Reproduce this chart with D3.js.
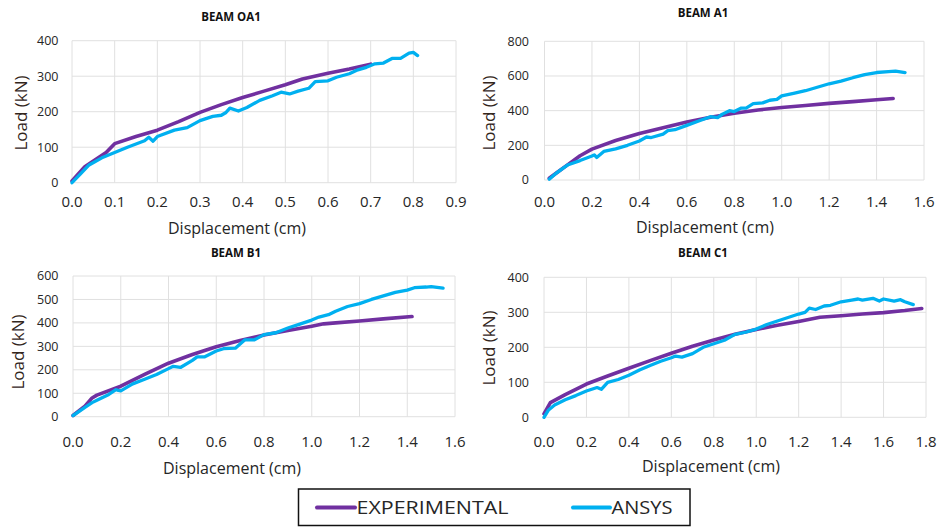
<!DOCTYPE html>
<html>
<head>
    <meta charset="utf-8">
    <title>Beam load-displacement</title>
    <script src="https://d3js.org/d3.v7.min.js"></script>
    <style>
        body {
            margin: 0;
            background: white;
        }

        svg text {
            font-family: "Open Sans", "DejaVu Sans", sans-serif;
            fill: #262626;
        }
    </style>
</head>
<body>
    <svg id="chart" width="943" height="527"></svg>
    <script>

        // ---- data: [displacement (cm), load (kN)] ----
        const oa1Exp = [[0, 5], [0.03, 45], [0.08, 85], [0.1, 110], [0.15, 130], [0.2, 148], [0.25, 172], [0.3, 198],
            [0.35, 220], [0.4, 240], [0.45, 258], [0.5, 276], [0.54, 292], [0.6, 308], [0.65, 320], [0.7, 334]];
        const oa1Ansys = [[0, 0], [0.02, 25], [0.04, 50], [0.07, 70], [0.1, 85], [0.13, 100], [0.17, 118], [0.18, 128],
            [0.19, 117], [0.2, 130], [0.24, 148], [0.27, 155], [0.3, 175], [0.33, 187], [0.35, 190], [0.36, 197],
            [0.37, 210], [0.39, 202], [0.41, 212], [0.44, 232], [0.47, 245], [0.49, 255], [0.51, 250], [0.53, 258],
            [0.555, 266], [0.57, 285], [0.6, 287], [0.62, 297], [0.65, 307], [0.67, 318], [0.69, 325], [0.71, 335],
            [0.73, 337], [0.75, 350], [0.77, 350], [0.79, 365], [0.8, 367], [0.81, 358]];

        const a1Exp = [[0.02, 10], [0.05, 40], [0.1, 90], [0.15, 140], [0.2, 178], [0.3, 228], [0.4, 268], [0.5, 302],
            [0.6, 335], [0.7, 362], [0.8, 385], [0.9, 404], [1.0, 418], [1.1, 430], [1.2, 442], [1.3, 452],
            [1.4, 463], [1.47, 470]];
        const a1Ansys = [[0.02, 5], [0.05, 40], [0.08, 70], [0.1, 88], [0.15, 112], [0.2, 138], [0.21, 145],
            [0.22, 130], [0.25, 165], [0.3, 180], [0.35, 200], [0.4, 225], [0.43, 248], [0.45, 245], [0.5, 265],
            [0.52, 285], [0.55, 290], [0.6, 315], [0.65, 340], [0.7, 365], [0.73, 360], [0.75, 380], [0.78, 400],
            [0.8, 395], [0.83, 415], [0.85, 415], [0.88, 440], [0.92, 445], [0.95, 460], [0.98, 465], [1.0, 485],
            [1.05, 500], [1.1, 515], [1.15, 535], [1.2, 555], [1.25, 570], [1.3, 590], [1.35, 608], [1.4, 620],
            [1.45, 625], [1.48, 628], [1.52, 620]];

        const b1Exp = [[0, 5], [0.05, 45], [0.08, 80], [0.1, 92], [0.2, 130], [0.3, 180], [0.4, 228], [0.5, 265],
            [0.6, 298], [0.7, 325], [0.8, 348], [0.9, 368], [1.0, 386], [1.05, 396], [1.1, 400], [1.2, 408],
            [1.3, 417], [1.42, 427]];
        const b1Ansys = [[0, 5], [0.05, 40], [0.08, 60], [0.1, 70], [0.15, 95], [0.18, 115], [0.19, 112], [0.2, 110],
            [0.25, 140], [0.3, 160], [0.35, 180], [0.4, 205], [0.42, 215], [0.45, 210], [0.5, 240], [0.52, 255],
            [0.55, 255], [0.6, 280], [0.63, 290], [0.68, 292], [0.7, 310], [0.72, 328], [0.76, 328], [0.8, 350],
            [0.85, 358], [0.9, 378], [0.95, 395], [1.0, 412], [1.03, 425], [1.07, 435], [1.1, 450], [1.15, 470],
            [1.2, 482], [1.25, 500], [1.3, 515], [1.35, 530], [1.4, 540], [1.43, 550], [1.48, 553], [1.5, 555],
            [1.55, 548]];

        const c1Exp = [[0, 10], [0.03, 42], [0.1, 65], [0.2, 95], [0.3, 118], [0.4, 140], [0.5, 162], [0.6, 183],
            [0.7, 203], [0.8, 221], [0.9, 237], [1.0, 251], [1.1, 263], [1.2, 274], [1.3, 286], [1.4, 290],
            [1.5, 295], [1.6, 299], [1.7, 305], [1.78, 311]];
        const c1Ansys = [[0, 0], [0.02, 20], [0.05, 35], [0.1, 50], [0.15, 62], [0.2, 75], [0.25, 85], [0.27, 80],
            [0.3, 100], [0.35, 108], [0.4, 120], [0.45, 135], [0.5, 148], [0.55, 160], [0.6, 170], [0.62, 175],
            [0.65, 172], [0.7, 182], [0.75, 200], [0.8, 210], [0.85, 220], [0.9, 237], [0.95, 243], [1.0, 252],
            [1.05, 265], [1.1, 275], [1.15, 285], [1.2, 295], [1.23, 300], [1.25, 312], [1.28, 308], [1.32, 318],
            [1.35, 320], [1.4, 330], [1.45, 335], [1.48, 338], [1.5, 335], [1.55, 340], [1.58, 332], [1.6, 338],
            [1.65, 332], [1.68, 336], [1.7, 330], [1.74, 322]];

        const titles = ["BEAM OA1", "BEAM A1", "BEAM B1", "BEAM C1"];
        const xMaxes = [0.9, 1.6, 1.6, 1.8];
        const xSteps = [0.1, 0.2, 0.2, 0.2];
        const yMaxes = [400, 800, 600, 400];
        const ySteps = [100, 200, 100, 100];
        const seriesNames = ["EXPERIMENTAL", "ANSYS"];

        // ---- layout ----
        const colors = { exp: "#7030A0", ansys: "#00B0F0" };
        const panels = [
            { left: 72, right: 456, top: 40.7, bottom: 182.7, titleX: 231, titleY: 21, yLabX: 21, yLabY: 113, xLabX: 237, xLabY: 233.5, tickGap: 13.5, exp: oa1Exp, ansys: oa1Ansys },
            { left: 544.5, right: 924, top: 41.3, bottom: 180, titleX: 703, titleY: 17, yLabX: 489, yLabY: 113, xLabX: 705, xLabY: 232.5, tickGap: 15.5, exp: a1Exp, ansys: a1Ansys },
            { left: 73, right: 455, top: 276, bottom: 416.7, titleX: 236, titleY: 257, yLabX: 18, yLabY: 352, xLabX: 232, xLabY: 473.5, tickGap: 14.5, exp: b1Exp, ansys: b1Ansys },
            { left: 544, right: 926, top: 277.3, bottom: 417.3, titleX: 703, titleY: 257, yLabX: 489, yLabY: 348, xLabX: 711, xLabY: 472, tickGap: 15, exp: c1Exp, ansys: c1Ansys }
        ];
        const xTickBaselines = [207, 207, 447, 447];

        const svg = d3.select("#chart");

        panels.forEach((p, i) => {
            const x = d3.scaleLinear().domain([0, xMaxes[i]]).range([p.left, p.right]);
            const y = d3.scaleLinear().domain([0, yMaxes[i]]).range([p.bottom, p.top]);
            const xTicks = d3.range(0, xMaxes[i] + xSteps[i] / 2, xSteps[i]);
            const yTicks = d3.range(0, yMaxes[i] + ySteps[i] / 2, ySteps[i]);

            const g = svg.append("g");

            // gridlines (Excel style, edges included)
            g.selectAll(".vgrid").data(xTicks).enter().append("line")
                .attr("x1", d => x(d)).attr("x2", d => x(d))
                .attr("y1", p.top).attr("y2", p.bottom)
                .attr("stroke", "#e0e0e0").attr("stroke-width", 1);
            g.selectAll(".hgrid").data(yTicks).enter().append("line")
                .attr("x1", p.left).attr("x2", p.right)
                .attr("y1", d => y(d)).attr("y2", d => y(d))
                .attr("stroke", "#e0e0e0").attr("stroke-width", 1);

            // tick labels
            g.selectAll(".xt").data(xTicks).enter().append("text")
                .attr("x", d => x(d)).attr("y", xTickBaselines[i])
                .attr("text-anchor", "middle")
                .style("font-size", "15px")
                .text(d => d3.format(".1f")(d));
            g.selectAll(".yt").data(yTicks).enter().append("text")
                .attr("x", p.left - p.tickGap).attr("y", d => y(d) + 4.4)
                .attr("text-anchor", "end")
                .style("font-size", "12.5px")
                .text(d => d);

            // titles
            g.append("text").attr("x", p.titleX).attr("y", p.titleY)
                .attr("text-anchor", "middle")
                .style("font-size", "11.5px").style("font-weight", "bold")
                .style("fill", "#111")
                .text(titles[i]);
            g.append("text").attr("x", p.xLabX).attr("y", p.xLabY)
                .attr("text-anchor", "middle")
                .style("font-size", "16px")
                .text("Displacement (cm)");
            g.append("text")
                .attr("transform", `translate(${p.yLabX},${p.yLabY}) rotate(-90)`)
                .attr("text-anchor", "middle").attr("dy", "0.35em")
                .style("font-size", "17px")
                .style("fill", "#33261c")
                .text("Load (kN)");

            const line = d3.line().x(d => x(d[0])).y(d => y(d[1]));

            g.append("path").datum(p.exp)
                .attr("d", line).attr("fill", "none")
                .attr("stroke", colors.exp).attr("stroke-width", 3.6)
                .attr("stroke-linejoin", "round").attr("stroke-linecap", "round");
            g.append("path").datum(p.ansys)
                .attr("d", line).attr("fill", "none")
                .attr("stroke", colors.ansys).attr("stroke-width", 3.3)
                .attr("stroke-linejoin", "round").attr("stroke-linecap", "round");
        });

        // legend
        const legend = svg.append("g");
        legend.append("rect")
            .attr("x", 298.5).attr("y", 489).attr("width", 391.5).attr("height", 36.5)
            .attr("fill", "white").attr("stroke", "#111").attr("stroke-width", 1.5);

        const legendItems = [
            { name: seriesNames[0], color: colors.exp, x1: 317, x2: 355, w: 152 },
            { name: seriesNames[1], color: colors.ansys, x1: 573, x2: 610, w: 61 }
        ];
        legendItems.forEach(it => {
            legend.append("line")
                .attr("x1", it.x1).attr("x2", it.x2).attr("y1", 507.5).attr("y2", 507.5)
                .attr("stroke", it.color).attr("stroke-width", 4).attr("stroke-linecap", "round");
            legend.append("text")
                .attr("x", it.x2 + 1.5).attr("y", 514)
                .attr("textLength", it.w).attr("lengthAdjust", "spacingAndGlyphs")
                .style("font-size", "18px")
                .text(it.name);
        });

    </script>
</body>
</html>
